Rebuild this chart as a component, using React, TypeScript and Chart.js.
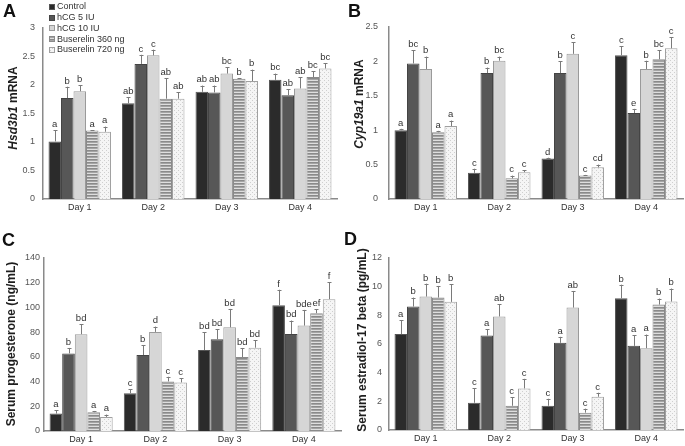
import React, { useEffect, useRef } from "react";
import { Chart, registerables } from "chart.js";
Chart.register(...registerables);

const DAYS = ["Day 1", "Day 2", "Day 3", "Day 4"];
const GROUPS = ["Control", "hCG 5 IU", "hCG 10 IU", "Buserelin 360 ng", "Buserelin 720 ng"];

// Panel A: Hsd3b1 mRNA (rows = groups, columns = days)
const hsdMean = [
  [1.01, 1.68, 1.88, 2.09],
  [1.77, 2.37, 1.87, 1.82],
  [1.89, 2.52, 2.2, 1.94],
  [1.2, 1.76, 2.11, 2.14],
  [1.18, 1.76, 2.07, 2.29],
];
const hsdSem = [
  [0.2, 0.11, 0.11, 0.11],
  [0.2, 0.16, 0.12, 0.11],
  [0.11, 0.1, 0.11, 0.2],
  [0.01, 0.36, 0.01, 0.1],
  [0.09, 0.11, 0.2, 0.09],
];
const hsdLetters = [
  ["a", "ab", "ab", "bc"],
  ["b", "c", "ab", "ab"],
  ["b", "c", "bc", "ab"],
  ["a", "ab", "b", "bc"],
  ["a", "ab", "b", "bc"],
];
const hsdTicks = { max: 3, step: 0.5 };

// Panel B: Cyp19a1 mRNA
const cypMean = [
  [1.0, 0.38, 0.59, 2.09],
  [1.97, 1.83, 1.83, 1.25],
  [1.89, 2.01, 2.11, 1.89],
  [0.97, 0.3, 0.34, 2.03],
  [1.06, 0.39, 0.46, 2.19],
];
const cypSem = [
  [0.02, 0.06, 0.01, 0.13],
  [0.19, 0.08, 0.17, 0.06],
  [0.18, 0.06, 0.17, 0.12],
  [0.02, 0.04, 0.01, 0.13],
  [0.08, 0.03, 0.04, 0.16],
];
const cypLetters = [
  ["a", "c", "d", "c"],
  ["bc", "b", "b", "e"],
  ["b", "bc", "c", "b"],
  ["a", "c", "c", "bc"],
  ["a", "c", "cd", "c"],
];
const cypTicks = { max: 2.5, step: 0.5 };

// Panel C: Serum progesterone (ng/mL)
const progMean = [
  [14.1, 30.6, 65.5, 101.8],
  [62.8, 61.5, 74.2, 78.5],
  [78.3, 80.2, 83.9, 85.3],
  [15.2, 40.1, 59.8, 95.3],
  [11.4, 39.3, 67.4, 106.7],
];
const progSem = [
  [2.7, 3.0, 14.4, 12.5],
  [4.4, 8.1, 8.1, 10.9],
  [8.1, 4.3, 14.9, 12.7],
  [1.0, 3.8, 7.4, 3.3],
  [1.9, 3.5, 6.2, 13.5],
];
const progLetters = [
  ["a", "c", "bd", "f"],
  ["b", "b", "bd", "bd"],
  ["bd", "d", "bd", "bde"],
  ["a", "c", "bd", "ef"],
  ["a", "c", "bd", "f"],
];
const progTicks = { max: 140, step: 20 };

// Panel D: Serum estradiol-17 beta (pg/mL)
const e2Mean = [
  [6.69, 1.9, 1.69, 9.19],
  [8.61, 6.59, 6.08, 5.87],
  [9.31, 7.92, 8.54, 5.71],
  [9.24, 1.69, 1.21, 8.75],
  [8.94, 2.9, 2.32, 8.96],
];
const e2Sem = [
  [0.97, 1.0, 0.49, 0.95],
  [0.63, 0.44, 0.42, 0.75],
  [0.9, 0.85, 1.16, 0.95],
  [0.81, 0.58, 0.28, 0.42],
  [1.23, 0.67, 0.28, 0.91],
];
const e2Letters = [
  ["a", "c", "c", "b"],
  ["b", "a", "a", "a"],
  ["b", "ab", "ab", "a"],
  ["b", "c", "c", "b"],
  ["b", "c", "c", "b"],
];
const e2Ticks = { max: 12, step: 2 };

const FONT = "Arial, 'Liberation Sans', sans-serif";

function stripePattern(ctx: CanvasRenderingContext2D) {
  const c = document.createElement("canvas");
  c.width = 4;
  c.height = 3;
  const g = c.getContext("2d")!;
  g.fillStyle = "#8a8a8a";
  g.fillRect(0, 0, 4, 1);
  g.fillStyle = "#a4a4a4";
  g.fillRect(0, 1, 4, 1);
  g.fillStyle = "#dedede";
  g.fillRect(0, 2, 4, 1);
  return ctx.createPattern(c, "repeat")!;
}

function dotPattern(ctx: CanvasRenderingContext2D) {
  const c = document.createElement("canvas");
  c.width = 4;
  c.height = 4;
  const g = c.getContext("2d")!;
  g.fillStyle = "#f5f5f5";
  g.fillRect(0, 0, 4, 4);
  g.fillStyle = "#cfcfcf";
  g.fillRect(0, 0, 1, 1);
  g.fillRect(2, 2, 1, 1);
  return ctx.createPattern(c, "repeat")!;
}

type TitlePart = { text: string; italic?: boolean };

type PanelCfg = {
  letter: string;
  letterPos: [number, number];
  title: TitlePart[];
  titlePos: [number, number];
  mean: number[][];
  sem: number[][];
  letters: string[][];
  ticks: { max: number; step: number };
  yWidth: number;
  xHeight: number;
  padTop: number;
  padRight: number;
  tickPad: number;
  legend?: boolean;
};

function buildChart(canvas: HTMLCanvasElement, cfg: PanelCfg) {
  const ctx = canvas.getContext("2d")!;
  const fills: any[] = ["#2b2b2b", "#575757", "#d6d6d6", stripePattern(ctx), dotPattern(ctx)];
  const borders = ["#555555", "#444444", "#9a9a9a", "#8a8a8a", "#a0a0a0"];

  const datasets = GROUPS.map((name, i) => ({
    label: name,
    data: cfg.mean[i],
    backgroundColor: fills[i],
    borderColor: borders[i],
    borderWidth: 1,
    categoryPercentage: 0.85,
    barPercentage: 1.0,
    sem: cfg.sem[i],
    letters: cfg.letters[i],
  }));

  const plugin = {
    id: "annot",
    afterDatasetsDraw(chart: any) {
      const c = chart.ctx as CanvasRenderingContext2D;
      const ys = chart.scales.y;
      c.save();
      chart.data.datasets.forEach((ds: any, i: number) => {
        const meta = chart.getDatasetMeta(i);
        meta.data.forEach((el: any, j: number) => {
          const v = ds.data[j];
          const top = ys.getPixelForValue(v + ds.sem[j]);
          const x = Math.round(el.x) + 0.5;
          c.strokeStyle = "#7a7a7a";
          c.lineWidth = 1;
          c.beginPath();
          c.moveTo(x, el.y);
          c.lineTo(x, top);
          c.moveTo(x - 2, Math.round(top) + 0.5);
          c.lineTo(x + 2, Math.round(top) + 0.5);
          c.stroke();
          c.fillStyle = "#333333";
          c.font = `9.5px ${FONT}`;
          c.textAlign = "center";
          c.textBaseline = "bottom";
          c.fillText(ds.letters[j], el.x, top - 1);
        });
      });
      c.restore();
    },
    afterDraw(chart: any) {
      const c = chart.ctx as CanvasRenderingContext2D;
      c.save();
      c.fillStyle = "#111111";
      c.font = `bold 18px ${FONT}`;
      c.textAlign = "left";
      c.textBaseline = "top";
      c.fillText(cfg.letter, cfg.letterPos[0], cfg.letterPos[1]);
      c.translate(cfg.titlePos[0], cfg.titlePos[1]);
      c.rotate(-Math.PI / 2);
      c.textBaseline = "middle";
      c.textAlign = "left";
      c.fillStyle = "#1e1e1e";
      const fontFor = (p: TitlePart) => `${p.italic ? "italic " : ""}bold 12px ${FONT}`;
      let total = 0;
      cfg.title.forEach((p) => {
        c.font = fontFor(p);
        total += c.measureText(p.text).width;
      });
      let x = -total / 2;
      cfg.title.forEach((p) => {
        c.font = fontFor(p);
        c.fillText(p.text, x, 0);
        x += c.measureText(p.text).width;
      });
      c.restore();
      if (cfg.legend) {
        c.save();
        c.font = `9px ${FONT}`;
        c.textBaseline = "middle";
        c.textAlign = "left";
        chart.data.datasets.forEach((ds: any, i: number) => {
          const yc = 7 + i * 10.7;
          c.fillStyle = ds.backgroundColor;
          c.fillRect(49, Math.round(yc - 3), 6, 6);
          c.strokeStyle = ds.borderColor;
          c.lineWidth = 1;
          c.strokeRect(49.5, Math.round(yc - 3) + 0.5, 5, 5);
          c.fillStyle = "#333333";
          c.fillText(ds.label, 57, yc);
        });
        c.restore();
      }
    },
  };

  return new Chart(canvas, {
    type: "bar",
    data: { labels: DAYS, datasets: datasets as any },
    options: {
      responsive: false,
      animation: false,
      layout: { padding: { top: cfg.padTop, right: cfg.padRight, left: 0, bottom: 0 } },
      plugins: { legend: { display: false }, tooltip: { enabled: false } },
      scales: {
        x: {
          grid: { display: false, drawTicks: false },
          border: { display: true, color: "#8a8a8a", width: 1.5 },
          ticks: { color: "#333333", font: { family: FONT, size: 9 }, padding: 3 },
          afterFit: (s: any) => {
            s.height = cfg.xHeight;
          },
        },
        y: {
          min: 0,
          max: cfg.ticks.max,
          grid: { display: false, drawTicks: false },
          border: { display: true, color: "#8a8a8a", width: 1.5 },
          ticks: {
            stepSize: cfg.ticks.step,
            color: "#555555",
            font: { family: FONT, size: 9 },
            padding: cfg.tickPad,
            callback: (v: any) => String(v),
          },
          afterFit: (s: any) => {
            s.width = cfg.yWidth;
          },
        },
      },
    } as any,
    plugins: [plugin],
  });
}

function Panel(props: { cfg: PanelCfg; left: number; top: number; width: number; height: number }) {
  const ref = useRef<HTMLCanvasElement>(null);
  useEffect(() => {
    const chart = buildChart(ref.current!, props.cfg);
    return () => chart.destroy();
  }, []);
  return (
    <canvas
      ref={ref}
      width={props.width}
      height={props.height}
      style={{ position: "absolute", left: props.left, top: props.top, width: props.width, height: props.height }}
    />
  );
}

const cfgA: PanelCfg = {
  letter: "A",
  letterPos: [3, 3],
  title: [{ text: "Hsd3b1", italic: true }, { text: " mRNA" }],
  titlePos: [14, 108],
  mean: hsdMean,
  sem: hsdSem,
  letters: hsdLetters,
  ticks: hsdTicks,
  yWidth: 43,
  xHeight: 24,
  padTop: 28,
  padRight: 5,
  tickPad: 8,
  legend: true,
};
const cfgB: PanelCfg = {
  letter: "B",
  letterPos: [6, 3],
  title: [{ text: "Cyp19a1", italic: true }, { text: " mRNA" }],
  titlePos: [18, 104],
  mean: cypMean,
  sem: cypSem,
  letters: cypLetters,
  ticks: cypTicks,
  yWidth: 47,
  xHeight: 24,
  padTop: 27,
  padRight: 2,
  tickPad: 11,
};
const cfgC: PanelCfg = {
  letter: "C",
  letterPos: [2, 9],
  title: [{ text: "Serum progesterone (ng/mL)" }],
  titlePos: [12, 121],
  mean: progMean,
  sem: progSem,
  letters: progLetters,
  ticks: progTicks,
  yWidth: 44,
  xHeight: 15,
  padTop: 35,
  padRight: 1,
  tickPad: 4,
};
const cfgD: PanelCfg = {
  letter: "D",
  letterPos: [2, 8],
  title: [{ text: "Serum estradiol-17 beta (pg/mL)" }],
  titlePos: [21, 117],
  mean: e2Mean,
  sem: e2Sem,
  letters: e2Letters,
  ticks: e2Ticks,
  yWidth: 47,
  xHeight: 16,
  padTop: 35,
  padRight: 2,
  tickPad: 7,
};

export default function App() {
  return (
    <div style={{ position: "fixed", left: 0, top: 0, width: 685, height: 446, background: "#ffffff" }}>
      <Panel cfg={cfgA} left={0} top={0} width={342} height={223} />
      <Panel cfg={cfgB} left={342} top={0} width={343} height={223} />
      <Panel cfg={cfgC} left={0} top={223} width={342} height={223} />
      <Panel cfg={cfgD} left={342} top={223} width={343} height={223} />
    </div>
  );
}
